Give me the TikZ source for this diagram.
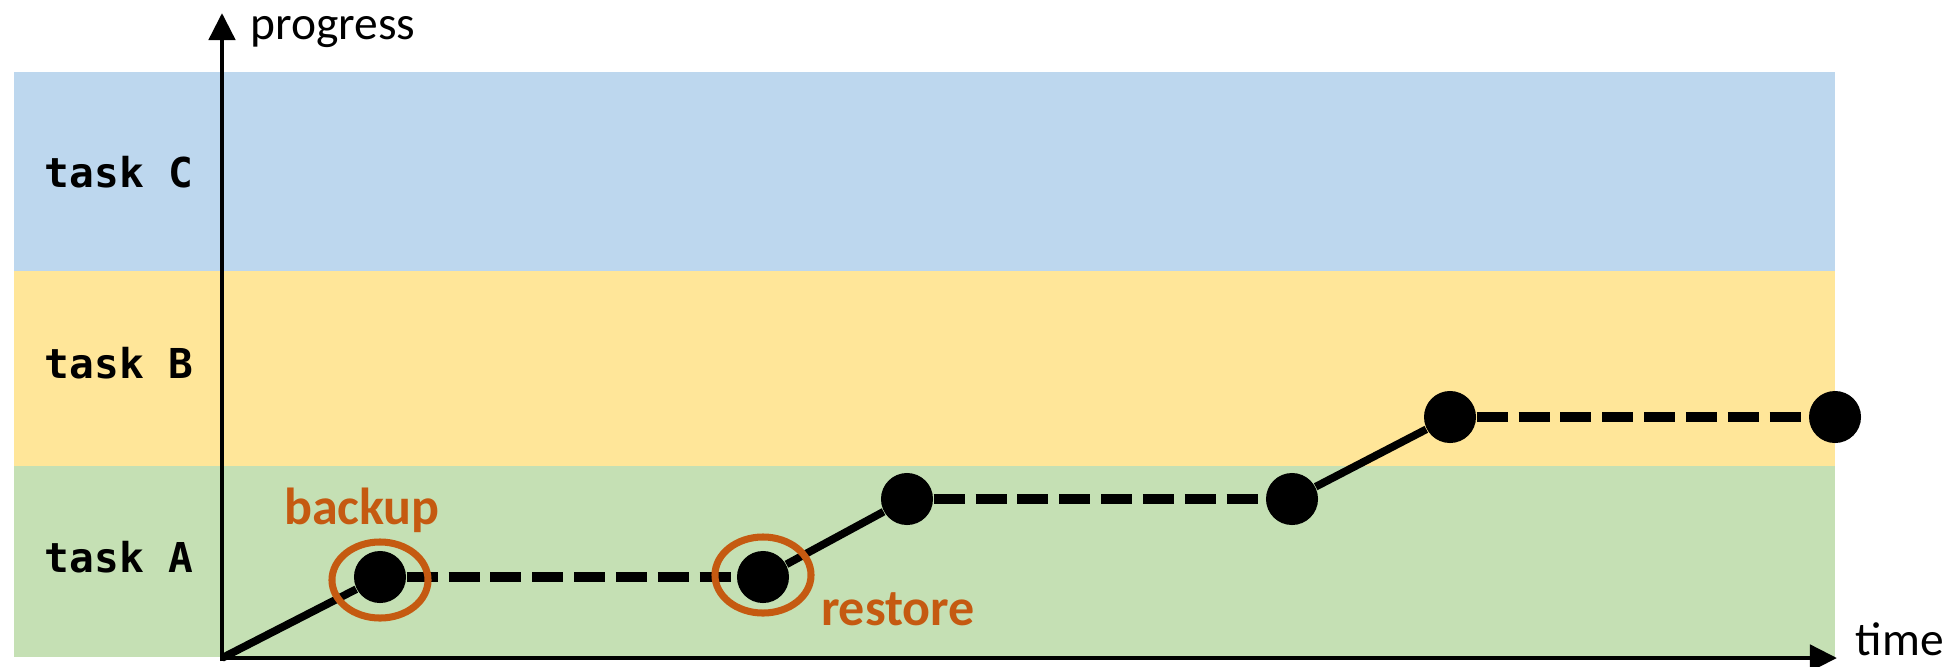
\documentclass[tikz,border=0pt]{standalone}
\usepackage{fontspec}
\setmainfont{Carlito}
\newfontfamily\monofont{DejaVu Sans Mono}
\usetikzlibrary{positioning,arrows.meta,shapes.geometric}

\definecolor{faixaC}{HTML}{BDD7EE}
\definecolor{faixaB}{HTML}{FFE699}
\definecolor{faixaA}{HTML}{C5E0B4}
\definecolor{laranja}{HTML}{C55A11}

\begin{document}
\begin{tikzpicture}[
  x=0.01cm, y=-0.01cm,
  faixa/.style={fill=#1, draw=none},
  tarefa/.style={font=\monofont\bfseries\fontsize{11.7}{14}\selectfont, anchor=base west, inner sep=0pt},
  eixo/.style={line width=1.4pt, -{Triangle[length=7.7pt, width=7.4pt]}},
  rotulo/.style={font=\fontsize{13.5}{15}\selectfont, anchor=base west, inner sep=0pt},
  ponto/.style={circle, fill=black, minimum size=0.52cm, inner sep=0pt},
  avanco/.style={line width=2.2pt},
  espera/.style={line width=2.8pt, dash pattern=on 8.8pt off 3.1pt},
  marca/.style={ellipse, draw=laranja, line width=2pt, minimum width=0.96cm, minimum height=0.76cm, inner sep=0pt},
  nota/.style={font=\bfseries\fontsize{14.8}{17}\selectfont, text=laranja, anchor=base, inner sep=0pt},
]
\useasboundingbox (0,0) rectangle (1957,666);

% ---- Faixas das tarefas
\fill[faixa=faixaC] (14,72) rectangle (1835,271);
\fill[faixa=faixaB] (14,271) rectangle (1835,466);
\fill[faixa=faixaA] (14,466) rectangle (1835,657);
\node[tarefa] (tc) at (44,187) {task C};
\node[tarefa] (tb) at (44,378) {task B};
\node[tarefa] (ta) at (44,572) {task A};

% ---- Eixos
\coordinate (o) at (222,658);
\coordinate (ytopo) at (222,13);
\coordinate (xfim) at (1837,658);
\draw[eixo] (222,661) -- (ytopo);
\draw[eixo] (220,658) -- (xfim);
\node[rotulo] (prog) at (250,39) {progress};
\node[rotulo] (tempo) at (1855,655) {time};

% ---- Pontos de progresso
\node[ponto] (p1) at (380,577) {};
\node[ponto] (p2) at (763,577) {};
\node[ponto] (p3) at (907,499) {};
\node[ponto] (p4) at (1292,499) {};
\node[ponto] (p5) at (1450,417) {};
\node[ponto] (p6) at (1835,417) {};

% ---- Trajetoria
\draw[avanco] (o) -- (p1);
\draw[espera] (p1) -- (p2);
\draw[avanco] (p2) -- (p3);
\draw[espera] (p3) -- (p4);
\draw[avanco] (p4) -- (p5);
\draw[espera] (p5) -- (p6);

% ---- Backup e restore
\node[marca] (bk) at (380,580) {};
\node[marca] (rs) at (763,575) {};
\node[nota] (bktxt) at (362,524) {backup};
\node[nota] (rstxt) at (898,625) {restore};
\end{tikzpicture}
\end{document}
